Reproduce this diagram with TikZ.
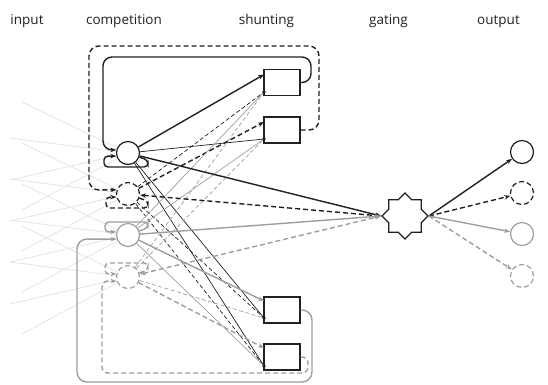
\documentclass[tikz,border=0pt]{standalone}
\usepackage{fontspec}
\setmainfont{Open Sans}
\usetikzlibrary{shapes.geometric,arrows.meta}
\definecolor{ink}{RGB}{35,31,32}
\definecolor{gr}{RGB}{158,158,158}
\definecolor{faint}{RGB}{228,228,228}
\begin{document}
\begin{tikzpicture}[x=1pt,y=-1pt,
  lbl/.style={font=\fontsize{13.5}{16}\selectfont, text=ink, anchor=base, inner sep=0},
  unit/.style={circle, minimum size=23pt, inner sep=0, line width=1.2pt},
  sbox/.style={rectangle, draw=ink, line width=1.4pt, minimum width=36pt, minimum height=26pt, inner sep=0},
  thk/.style={line width=1.4pt},
  thn/.style={line width=0.7pt},
  dsh/.style={dash pattern=on 5pt off 3pt},
  dshs/.style={dash pattern=on 4pt off 2.5pt},
  tip/.style={-{Stealth[length=6pt,width=4.5pt]}},
  btip/.style={{Stealth[length=6pt,width=4.5pt]}-{Stealth[length=6pt,width=4.5pt]}},
  inp/.style={draw=faint, line width=0.8pt},
]
\useasboundingbox (0,0) rectangle (548,384);

% labels
\node[lbl] (tin) at (27,24) {input};
\node[lbl] (tcomp) at (124,24) {competition};
\node[lbl] (tshunt) at (266.5,24) {shunting};
\node[lbl] (tgate) at (388.5,24) {gating};
\node[lbl] (tout) at (498.5,24) {output};

% competition units
\node[unit, draw=ink] (C1) at (128,153) {};
\node[unit, draw=ink, dsh] (C2) at (128,194) {};
\node[unit, draw=gr] (C3) at (128,235) {};
\node[unit, draw=gr, dsh] (C4) at (128,277) {};

% shunting boxes
\node[sbox] (B1) at (282,82.5) {};
\node[sbox] (B2) at (282,130) {};
\node[sbox] (B3) at (282,310) {};
\node[sbox] (B4) at (282,357) {};
\coordinate (B1in) at (264,74.5);
\coordinate (B1dot) at (264,92);
\coordinate (B2in) at (264,122);
\coordinate (B2dot) at (264,139);
\coordinate (B3in) at (264,301);
\coordinate (B3dot) at (264,318);
\coordinate (B4in) at (264,348);
\coordinate (B4dot) at (264,366);

% gating
\node[star, star points=8, star point ratio=1.307, minimum size=46pt, inner sep=0, draw=ink, line width=1.2pt] (G) at (405,216) {};

% outputs
\node[unit, draw=ink] (O1) at (522,152) {};
\node[unit, draw=ink, dsh] (O2) at (522,193) {};
\node[unit, draw=gr] (O3) at (522,234) {};
\node[unit, draw=gr, dsh] (O4) at (522,276) {};

% input lines
\foreach \c/\y in {C1/153,C2/194,C3/235,C4/277}{
  \draw[inp] (22,\y-51) -- (\c);
  \draw[inp] (10,\y-15) -- (\c);
  \draw[inp] (10,\y+27) -- (\c);
  \draw[inp] (22,\y+57) -- (\c);
}

% self loops
\draw[thk, ink, tip, rounded corners=4pt] (C1.-20) -- (148,160) -- (148,167) -- (104,167) -- (104,156) -- (C1.195);
\draw[thk, ink, dsh, tip, rounded corners=4pt] (C2.-20) -- (148,201) -- (148,208) -- (106,208) -- (106,197) -- (C2.195);
\draw[thk, gr, tip, rounded corners=4pt] (C3.20) -- (148,228) -- (148,222) -- (105,222) -- (105,232) -- (C3.165);
\draw[thk, gr, dsh, tip, rounded corners=4pt] (C4.20) -- (148,270) -- (148,263) -- (105,263) -- (105,274) -- (C4.165);

% big feedback loops from shunting boxes
\draw[thk, ink, tip, rounded corners=9pt] (B1.east) -- (311,82.5) -- (311,57) -- (103,57) -- (103,150) -- (C1.165);
\draw[thk, ink, dsh, tip, rounded corners=10pt] (B2.east) -- (319,130) -- (319,46) -- (89,46) -- (89,190) -- (C2.160);
\draw[thk, gr, tip, rounded corners=10pt] (B3.east) -- (312,310) -- (312,382) -- (77,382) -- (77,239) -- (C3.200);
\draw[thk, gr, dsh, tip, rounded corners=6pt] (B4.east) -- (308,357) -- (308,373) -- (102,373) -- (102,281) -- (C4.200);

% competition -> shunting
\draw[thk, ink, tip] (C1) -- (B1in);
\draw[thn, ink] (C1) -- (B2dot);
\draw[thn, ink] (C1) -- (B3dot);
\draw[thn, ink] (C1) -- (B4dot);
\draw[thk, ink, dsh, tip] (C2) -- (B2in);
\draw[thn, ink, dshs] (C2) -- (B1dot);
\draw[thn, ink, dshs] (C2) -- (B3dot);
\draw[thn, ink, dshs] (C2) -- (B4dot);
\draw[thk, gr, tip] (C3) -- (B3in);
\draw[thn, gr] (C3) -- (B1dot);
\draw[thn, gr] (C3) -- (B2dot);
\draw[thn, gr] (C3) -- (B4dot);
\draw[thk, gr, dsh, tip] (C4) -- (B4in);
\draw[thn, gr, dshs] (C4) -- (B1dot);
\draw[thn, gr, dshs] (C4) -- (B2dot);
\draw[thn, gr, dshs] (C4) -- (B3dot);
\foreach \d in {B1dot,B2dot,B3dot,B4dot}{\fill[ink] (\d) circle (1.9pt);}

% competition <-> gating
\draw[thk, ink, tip] (C1) -- (G.west);
\draw[thk, ink, dsh, btip] (C2) -- (G.west);
\draw[thk, gr, tip] (C3) -- (G.west);
\draw[thk, gr, dsh, btip] (C4) -- (G.west);

% gating -> output
\draw[thk, ink, tip] (G.east) -- (O1);
\draw[thk, ink, dsh, tip] (G.east) -- (O2);
\draw[thk, gr, tip] (G.east) -- (O3);
\draw[thk, gr, dsh, tip] (G.east) -- (O4);
\end{tikzpicture}
\end{document}
